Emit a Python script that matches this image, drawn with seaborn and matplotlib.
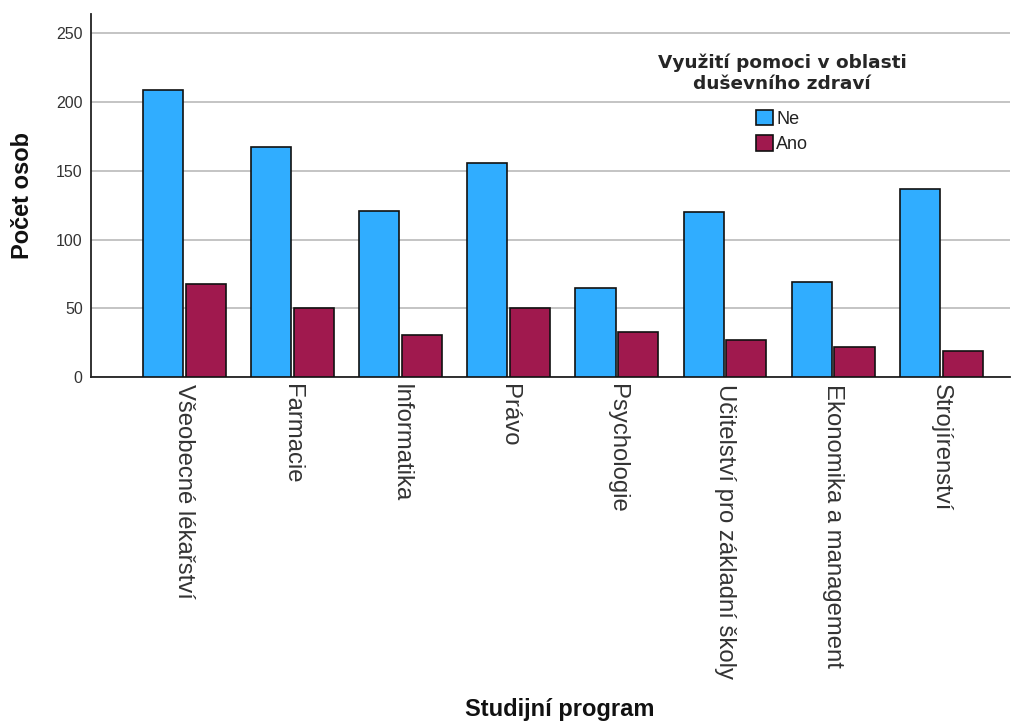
import matplotlib
matplotlib.use("Agg")
import matplotlib.pyplot as plt
from matplotlib.patches import Patch
import seaborn as sns
import pandas as pd

# Study programmes and counts of students by use of mental-health support
programs = [
    "Všeobecné lékařství", "Farmacie", "Informatika", "Právo",
    "Psychologie", "Učitelství pro základní školy",
    "Ekonomika a management", "Strojírenství",
]
groups = ["Ne", "Ano"]
counts_ne = [209, 167, 121, 156, 65, 120, 69, 137]
counts_ano = [68, 50, 31, 50, 33, 27, 22, 19]
y_ticks = [0, 50, 100, 150, 200, 250]

hue_title = "Využití pomoci v oblasti\nduševního zdraví"

df = pd.DataFrame({
    "program": programs * 2,
    "group": ["Ne"] * len(programs) + ["Ano"] * len(programs),
    "count": counts_ne + counts_ano,
})

sns.set_theme(style="white")
plt.rcParams["font.family"] = ["Liberation Sans", "DejaVu Sans"]

fig = plt.figure(figsize=(10.22, 7.22), dpi=100)
ax = fig.add_axes([91 / 1022, 1 - 377.3 / 722, (1010 - 91) / 1022, (377.3 - 14) / 722])

palette = {"Ne": "#30adff", "Ano": "#a0194e"}
sns.barplot(
    data=df, x="program", y="count", hue="group", order=programs,
    hue_order=groups, palette=palette, width=0.79, gap=0.06,
    edgecolor="#111111", linewidth=1.2, saturation=1, ax=ax, legend=False,
    zorder=3,
)

ax.set_ylim(0, 264)
ax.set_xlim(-0.862, 7.635)
ax.set_yticks(y_ticks)
ax.yaxis.grid(True, color="#c4c4c4", linewidth=1.4, zorder=0)
ax.xaxis.grid(False)
ax.set_axisbelow(True)

for side in ("top", "right"):
    ax.spines[side].set_visible(False)
for side in ("left", "bottom"):
    ax.spines[side].set_color("#222222")
    ax.spines[side].set_linewidth(1.3)

ax.tick_params(axis="both", length=0)
ax.tick_params(axis="y", labelsize=11.5, labelcolor="#333333", pad=6)
ax.tick_params(axis="x", labelsize=17.2, labelcolor="#333333", pad=5)
for lbl in ax.get_xticklabels():
    lbl.set_rotation(270)
    lbl.set_ha("center")
    lbl.set_va("top")

ax.set_xlabel("Studijní program", fontsize=17, fontweight="bold", color="#111111")
ax.xaxis.set_label_coords(0.51, -0.882)
ax.set_ylabel("Počet osob", fontsize=17, fontweight="bold", color="#111111")
ax.yaxis.set_label_coords(-0.062, 0.5)

# Legend built from one patch per hue level
handles = [Patch(facecolor=palette[g], edgecolor="#111111", linewidth=1.2) for g in groups]
leg = fig.legend(
    handles, groups, title=hue_title, loc="upper center",
    bbox_to_anchor=(782 / 1022, 1 - 44 / 722), frameon=False,
    fontsize=13, handlelength=0.95, handleheight=0.95,
    handletextpad=0.2, labelspacing=0.42, borderpad=0.0,
)
title = leg.get_title()
title.set_fontfamily("DejaVu Sans")
title.set_fontweight("bold")
title.set_fontsize(13.3)
title.set_multialignment("center")
title.set_linespacing(1.25)
leg._legend_box.sep = 12
for t in leg.get_texts():
    t.set_color("#222222")

fig.savefig("out.png", dpi=100)
